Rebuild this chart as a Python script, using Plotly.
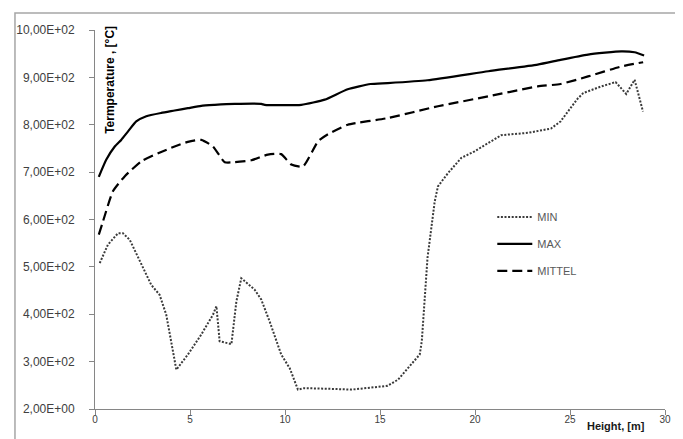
import plotly.graph_objects as go

# ---- data ----
height_min = [0.25, 0.68, 1.21, 1.47, 1.83, 2.44, 2.96, 3.4, 3.75, 4.28, 4.89, 5.59, 6.21, 6.39,
              6.56, 7.18, 7.44, 7.7, 8.4, 8.75, 9.19, 9.8, 10.25, 10.68, 11.0, 12.0, 13.5, 14.5,
              15.4, 15.95, 17.09, 17.2, 17.5, 17.88, 18.05, 18.58, 19.28, 19.98, 20.7, 21.38,
              22.8, 24.0, 24.5, 25.0, 25.4, 25.7, 26.65, 27.4, 27.96, 28.4, 28.84]
temp_min = [508, 547, 571, 571, 557, 505, 462, 441, 399, 283, 315, 357, 399, 417,
            343, 337, 427, 476, 452, 431, 385, 315, 286, 241, 244, 243, 241, 245,
            249, 262, 315, 343, 519, 638, 670, 698, 730, 744, 761, 778,
            783, 792, 807, 835, 855, 867, 881, 890, 865, 895, 828]

height_max = [0.2, 0.59, 1.04, 1.38, 1.74, 2.17, 2.7, 3.49, 4.19, 4.89, 5.59, 6.3, 7.35, 8.75,
              8.93, 10.86, 12.09, 13.3, 14.5, 15.4, 17.5, 20.7, 23.3, 24.5, 25.95, 27.7, 28.4, 28.9]
temp_max = [690, 726, 754, 768, 786, 807, 818, 825, 830, 835, 840, 842, 844, 844,
            842, 842, 853, 875, 886, 888, 894, 913, 927, 937, 948, 955, 953, 946]

height_mittel = [0.2, 0.42, 0.95, 1.56, 2.44, 3.32, 4.19, 4.89, 5.59, 6.21, 6.83, 7.35, 8.23, 9.1,
                 9.8, 10.33, 10.95, 11.74, 12.26, 13.3, 15.4, 18.05, 20.7, 23.3, 24.5, 25.95, 27.7, 28.85]
temp_mittel = [568, 596, 660, 691, 723, 740, 754, 764, 768, 754, 721, 721, 725, 737,
               738, 716, 712, 765, 780, 800, 814, 839, 860, 881, 886, 902, 923, 932]

y_tickvals = [200, 300, 400, 500, 600, 700, 800, 900, 1000]
y_ticktext = ["2,00E+00", "3,00E+02", "4,00E+02", "5,00E+02", "6,00E+02",
              "7,00E+02", "8,00E+02", "9,00E+02", "10,00E+02"]
x_tickvals = [0, 5, 10, 15, 20, 25, 30]

fig = go.Figure()
fig.add_trace(go.Scatter(x=height_min, y=temp_min, mode="lines", name="MIN", legendgroup="a",
                         line=dict(color="#3a3a3a", width=2, dash="2px,1.6px")))
fig.add_trace(go.Scatter(x=height_max, y=temp_max, mode="lines", name="MAX", legendgroup="b",
                         line=dict(color="#000000", width=2.2, shape="spline", smoothing=0.5)))
fig.add_trace(go.Scatter(x=height_mittel, y=temp_mittel, mode="lines", name="MITTEL", legendgroup="c",
                         line=dict(color="#000000", width=2.2, dash="10px,5px",
                                   shape="spline", smoothing=0.5)))

axis_col = "#868686"
fig.update_layout(
    width=683, height=439,
    margin=dict(l=87, r=26, t=22, b=38),
    paper_bgcolor="white", plot_bgcolor="white",
    showlegend=True,
    legend=dict(x=0.697, y=0.545, xanchor="left", yanchor="top",
                font=dict(family="Liberation Sans, Arial", size=11, color="#595959"),
                tracegroupgap=8, itemwidth=35, bgcolor="rgba(0,0,0,0)"),
    xaxis=dict(range=[0, 30], tickvals=x_tickvals, showgrid=False, zeroline=False,
               showline=True, linecolor=axis_col, linewidth=1, automargin=False,
               ticks="outside", ticklen=5, tickcolor=axis_col, ticklabelstandoff=-4,
               tickfont=dict(family="Liberation Sans, Arial", size=10, color="#404040")),
    yaxis=dict(range=[200, 1000], tickvals=y_tickvals, ticktext=y_ticktext,
               showgrid=False, zeroline=False, automargin=False,
               showline=True, linecolor=axis_col, linewidth=1,
               ticks="outside", ticklen=5, tickcolor=axis_col, ticklabelstandoff=12,
               tickfont=dict(family="Liberation Sans, Arial", size=12, color="#404040")),
    annotations=[
        dict(text="<b>Termperature , [°C]</b>", textangle=-90, xref="paper", yref="paper",
             x=0.026, y=0.868, xanchor="center", yanchor="middle", showarrow=False,
             font=dict(family="Liberation Sans, Arial", size=12, color="#000000")),
        dict(text="<b>Height, [m]</b>", xref="paper", yref="paper",
             x=0.914, y=-0.045, xanchor="center", yanchor="middle", showarrow=False,
             font=dict(family="Liberation Sans, Arial", size=11, color="#1a1a1a")),
    ],
    shapes=[
        dict(type="rect", xref="paper", yref="paper", x0=-0.1404, x1=1.06, y0=-0.0897, y1=1.0449,
             line=dict(color="#a6a6a6", width=1.5), fillcolor="rgba(0,0,0,0)", layer="below"),
    ],
)

fig.write_html("out.html")
